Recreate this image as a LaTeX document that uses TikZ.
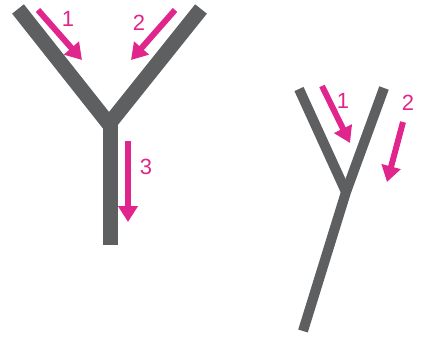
\documentclass[tikz,border=0pt]{standalone}
\usepackage{fontspec}
\setmainfont{Liberation Sans}
\usetikzlibrary{arrows.meta}
\definecolor{ygray}{HTML}{5E5F61}
\definecolor{flow}{HTML}{E0268C}
\tikzset{
  bar/.style={draw=ygray, line width=15pt, line cap=butt, line join=miter},
  thinbar/.style={draw=ygray, line width=10pt, line cap=butt, line join=miter},
  flowarrow/.style={draw=flow, line width=6pt, -{Triangle[length=16pt,width=19pt]}},
  numlabel/.style={text=flow, font=\fontsize{22}{22}\selectfont, inner sep=0pt}
}
\begin{document}
\begin{tikzpicture}[x=1pt,y=-1pt]
\useasboundingbox (0,0) rectangle (423,337);
% left Y
\coordinate (la) at (18,9);
\coordinate (lj) at (109,124);
\coordinate (lb) at (201,9);
\coordinate (ls) at (110,120);
\coordinate (le) at (110,245);
\draw[bar] (la) -- (lj) -- (lb);
\draw[bar] (ls) -- (le);
% right Y
\coordinate (ra) at (299,89);
\coordinate (rj) at (346,192);
\coordinate (rb) at (384,88);
\coordinate (re) at (303,331);
\draw[thinbar] (ra) -- (rj);
\draw[thinbar] (rb) -- (rj) -- (re);
% arrows left
\coordinate (a1s) at (38,10);
\coordinate (a1e) at (82,60);
\coordinate (a2s) at (175,10);
\coordinate (a2e) at (131,60);
\coordinate (a3s) at (128,141);
\coordinate (a3e) at (128,222);
\draw[flowarrow] (a1s) -- (a1e);
\draw[flowarrow] (a2s) -- (a2e);
\draw[flowarrow] (a3s) -- (a3e);
\node[numlabel] (n1) at (68,19) {1};
\node[numlabel] (n2) at (139,23) {2};
\node[numlabel] (n3) at (146,167) {3};
% arrows right
\coordinate (b1s) at (322,86);
\coordinate (b1e) at (350,143);
\coordinate (b2s) at (403,122);
\coordinate (b2e) at (387,182);
\draw[flowarrow] (b1s) -- (b1e);
\draw[flowarrow] (b2s) -- (b2e);
\node[numlabel] (m1) at (343,101) {1};
\node[numlabel] (m2) at (408,103) {2};
\end{tikzpicture}
\end{document}
